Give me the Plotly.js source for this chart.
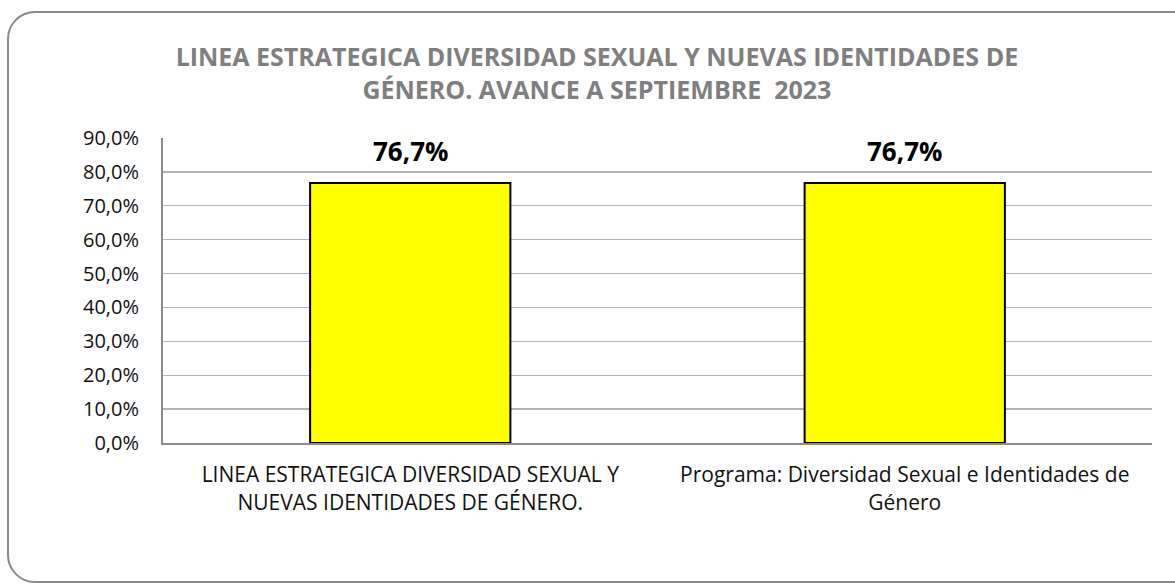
<!DOCTYPE html>
<html>
<head>
<meta charset="utf-8">
<script src="https://cdn.plot.ly/plotly-3.0.1.min.js"></script>
<style>
  html, body { margin: 0; padding: 0; background: #ffffff; overflow: hidden; }
  #wrap { position: relative; width: 1175px; height: 586px; }
  #frame {
    position: absolute; left: 7px; top: 11px; width: 1200px; height: 572px;
    border: 2px solid #8a8a8a; border-radius: 28px; box-sizing: border-box;
  }
  #chart { position: absolute; left: 0; top: 0; width: 1175px; height: 586px; }
</style>
</head>
<body>
<div id="wrap">
  <div id="frame"></div>
  <div id="chart"></div>
</div>
<script>
// Avance por categoría (fracción del total)
const categories = [
  "LINEA ESTRATEGICA DIVERSIDAD SEXUAL Y<br>NUEVAS IDENTIDADES DE GÉNERO.",
  "Programa: Diversidad Sexual e Identidades de<br>Género"
];
const avance = [0.767, 0.767];
const yTicks = [0, 0.1, 0.2, 0.3, 0.4, 0.5, 0.6, 0.7, 0.8, 0.9];
const titleText = "LINEA ESTRATEGICA DIVERSIDAD SEXUAL Y NUEVAS IDENTIDADES DE<br>GÉNERO. AVANCE A SEPTIEMBRE  2023";

const FONT = "Open Sans, Noto Sans, sans-serif";

// Etiqueta de porcentaje con coma decimal
const fmtPct = v => (v * 100).toFixed(1).replace(".", ",") + "%";

const trace = {
  type: "bar",
  x: categories,
  y: avance,
  marker: { color: "#ffff00", line: { color: "#000000", width: 2 } },
  hoverinfo: "skip"
};

const labels = categories.map((c, i) => ({
  x: c,
  y: avance[i],
  xref: "x", yref: "y",
  text: fmtPct(avance[i]),
  showarrow: false,
  yanchor: "bottom",
  yshift: 12,
  font: { family: FONT, size: 26, color: "#000000", weight: "bold" }
}));

const layout = {
  width: 1175,
  height: 586,
  separators: ",.",
  paper_bgcolor: "rgba(0,0,0,0)",
  plot_bgcolor: "rgba(0,0,0,0)",
  margin: { l: 163, r: 23, t: 138, b: 143 },
  bargap: 0.595,
  showlegend: false,
  font: { family: FONT, color: "#000000" },
  title: {
    text: titleText,
    font: { family: FONT, size: 25, color: "#7f7f7f", weight: "bold" },
    x: 0.508, xanchor: "center",
    y: 0.887, yanchor: "middle",
    xref: "container", yref: "container"
  },
  annotations: labels,
  xaxis: {
    type: "category",
    showline: true, linecolor: "#8c8c8c", linewidth: 2,
    showgrid: false,
    ticks: "",
    tickfont: { family: FONT, size: 21, color: "#111111" },
    ticklabelstandoff: 12
  },
  yaxis: {
    range: [0, 0.9],
    tickvals: yTicks,
    tickformat: ".1%",
    showline: true, linecolor: "#8c8c8c", linewidth: 2,
    showgrid: true, gridcolor: "#b3b3b3", gridwidth: 1.3,
    zeroline: false,
    ticks: "",
    tickfont: { family: FONT, size: 20, color: "#111111" },
    ticklabelstandoff: 18
  }
};

Plotly.newPlot("chart", [trace], layout, { staticPlot: true, displayModeBar: false });
</script>
</body>
</html>
